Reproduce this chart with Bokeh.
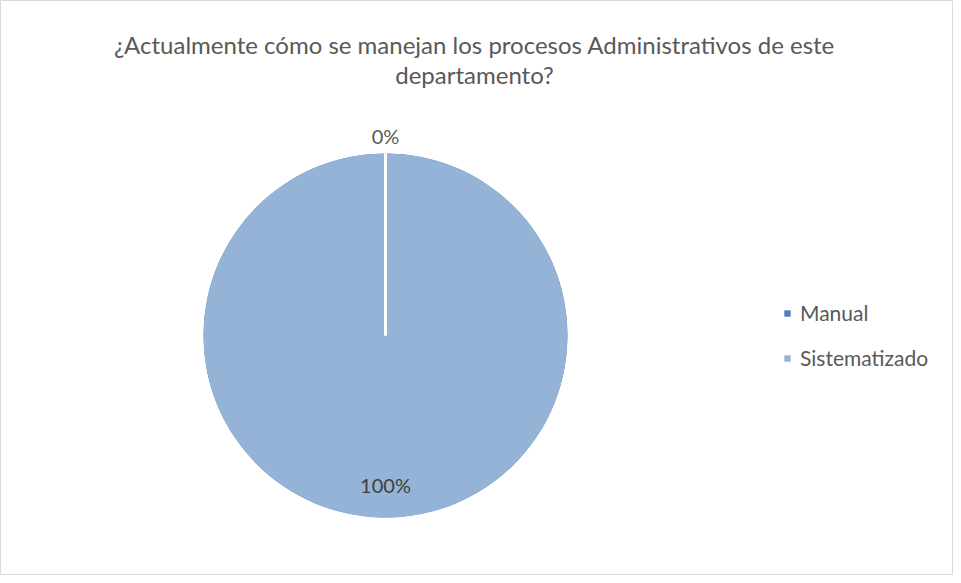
import math
from bokeh.plotting import figure
from bokeh.models import Range1d, Legend, LegendItem
from bokeh.core.properties import value
from bokeh.embed import file_html
from bokeh.resources import INLINE

title_lines = ["¿Actualmente cómo se manejan los procesos Administrativos de este", "departamento?"]
categories = ["Manual", "Sistematizado"]
values = [0, 100]
colors = ["#4F81BD", "#95B3D7"]

W, H = 953, 575
FONT = "Lato"

p = figure(width=W, height=H, output_backend="svg", toolbar_location=None,
           x_range=Range1d(0, W), y_range=Range1d(0, H), min_border=0)
p.axis.visible = False
p.grid.visible = False
p.outline_line_color = "#D9D9D9"
p.outline_line_width = 1
p.background_fill_color = "white"
p.border_fill_color = "white"

cx, cy, r = 385, 240, 182
total = sum(values)
start = math.pi / 2
starts, ends, mids = [], [], []
for v in values:
    span = 2 * math.pi * v / total
    starts.append(start)
    ends.append(start - span)
    mids.append(start - span / 2)
    start -= span

renderers = []
for i, c in enumerate(categories):
    s, e = starts[i], ends[i]
    if abs(s - e) >= 2 * math.pi - 1e-9:
        e = s - 2 * math.pi + 1e-4
    rr = p.wedge(x=cx, y=cy, radius=r, start_angle=s, end_angle=e, direction="clock",
                 fill_color=colors[i], line_color=None)
    renderers.append(rr)

# slice boundaries (white separators)
for a in starts:
    p.segment(x0=cx, y0=cy, x1=cx + r * math.cos(a), y1=cy + r * math.sin(a),
              line_color="white", line_width=3)

# data labels
for i, v in enumerate(values):
    a = mids[i]
    if v == 0:
        d = r + 18
        col = "#595959"
    else:
        d = r * 0.82
        col = "#404040"
    p.text(x=[cx + d * math.cos(a)], y=[cy + d * math.sin(a)], text=[f"{v}%"],
           text_align="center", text_baseline="middle", text_font=value(FONT),
           text_font_size="20px", text_color=col)

# title
p.text(x=[474, 474], y=[531, 501], text=title_lines, text_align="center",
       text_baseline="middle", text_font=value(FONT), text_font_size="24px",
       text_color="#595959")

legend = Legend(items=[LegendItem(label=c, renderers=[renderers[i]]) for i, c in enumerate(categories)],
                location=(783, 205), orientation="vertical", padding=0, margin=0,
                spacing=20, label_height=24, glyph_width=8, glyph_height=8,
                label_standoff=9, label_text_font=FONT, label_text_font_size="21px",
                label_text_color="#595959", border_line_color=None,
                background_fill_alpha=0)
p.add_layout(legend, "center")

open("out.html", "w").write(file_html(p, INLINE))
